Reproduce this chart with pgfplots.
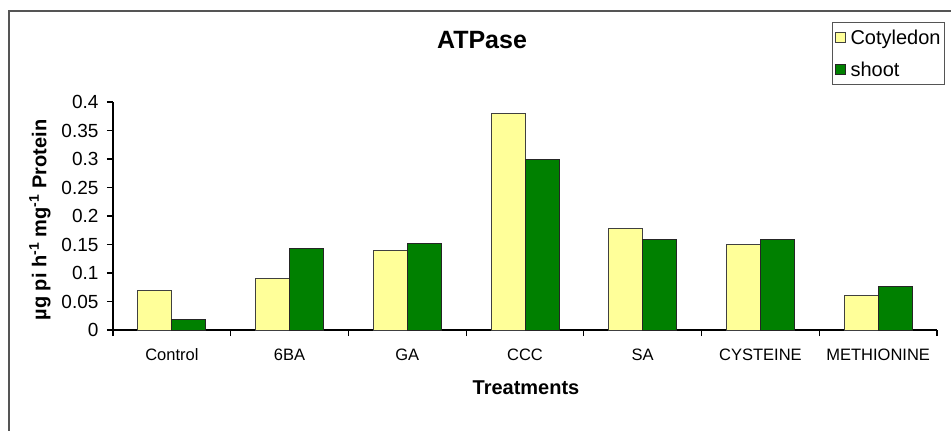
\documentclass[border=0pt]{standalone}
\usepackage{fontspec}
\setmainfont{Liberation Sans}
\usepackage{pgfplots}
\usepackage{pgfplotstable}
\pgfplotsset{compat=1.18}
\definecolor{cotcol}{HTML}{FFFF99}
\definecolor{shootcol}{HTML}{008000}
\definecolor{framecol}{HTML}{555555}

% ATPase activity per treatment
\pgfplotstableread{
idx cot   shoot
0   0.070 0.018
1   0.091 0.143
2   0.140 0.152
3   0.380 0.300
4   0.178 0.159
5   0.150 0.159
6   0.060 0.077
}\atpase

\begin{document}
\begin{tikzpicture}[x=1bp,y=1bp]
\begin{axis}[
    scale only axis, width=824bp, height=228bp,
    ybar, bar width=34bp, ybar=0pt,
    xmin=-0.5, xmax=6.5, ymin=0, ymax=0.4,
    axis x line*=bottom, axis y line*=left,
    axis line style={black, line width=1.5bp},
    tick align=outside,
    tick style={black, line width=1.2bp},
    major tick length=6bp, minor tick length=6bp,
    xtick={0,...,6},
    xticklabels={Control,6BA,GA,CCC,SA,CYSTEINE,METHIONINE},
    major x tick style={draw=none},
    minor xtick={-0.5,0.5,1.5,2.5,3.5,4.5,5.5,6.5},
    ytick={0,0.05,0.1,0.15,0.2,0.25,0.3,0.35,0.4},
    yticklabels={0,0.05,0.1,0.15,0.2,0.25,0.3,0.35,0.4},
    xticklabel style={font=\fontsize{16.5bp}{20bp}\selectfont, anchor=center, yshift=-19bp},
    yticklabel style={font=\fontsize{19bp}{22bp}\selectfont, xshift=-5bp},
    title={ATPase},
    title style={at={(axis description cs:0.4478,1.245)}, anchor=center,
        font=\bfseries\fontsize{25bp}{30bp}\selectfont},
    xlabel={Treatments},
    xlabel style={at={(axis description cs:0.5012,-0.254)}, anchor=center,
        font=\bfseries\fontsize{20bp}{24bp}\selectfont},
    ylabel={µg pi h\textsuperscript{-1} mg\textsuperscript{-1} Protein},
    ylabel style={at={(axis description cs:-0.0886,0.482)}, anchor=center,
        font=\bfseries\fontsize{20bp}{24bp}\selectfont},
    legend style={at={(axis description cs:0.8726,1.351)}, anchor=north west,
        draw=framecol, line width=1.2bp,
        font=\fontsize{20bp}{24bp}\selectfont,
        inner xsep=2bp, inner ysep=5bp, row sep=12bp,
        cells={anchor=west}},
    legend image code/.code={\draw[#1, line width=0.8bp] (0bp,-5bp) rectangle (10bp,5bp);
        \path (13bp,0bp);},
]
\addplot[fill=cotcol, draw=black!75, line width=1bp] table[x=idx, y=cot] {\atpase};
\addplot[fill=shootcol, draw=black!85, line width=1bp] table[x=idx, y=shoot] {\atpase};
\legend{Cotyledon, shoot}
\coordinate (O) at (rel axis cs:0,0);
\end{axis}
\begin{scope}[shift={(O)}]
  \draw[framecol, line width=2bp] (-104,-110) -- (-104,319) -- (850,319);
  \pgfresetboundingbox
  \path[use as bounding box] (-113,-100) rectangle (838,330);
\end{scope}
\end{tikzpicture}
\end{document}
